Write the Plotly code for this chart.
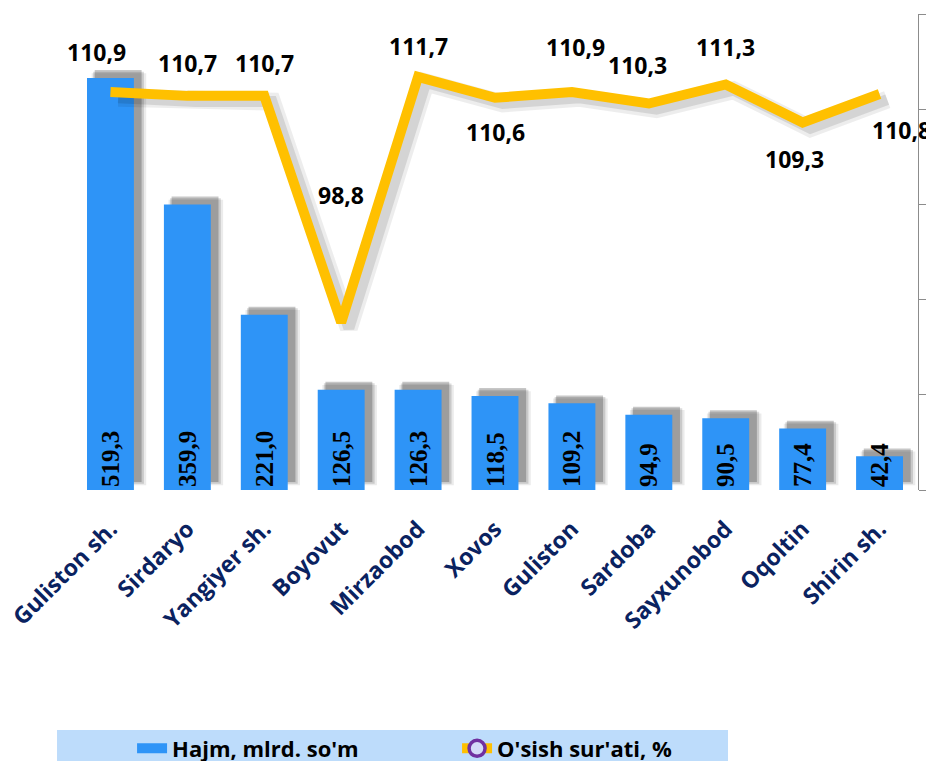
import plotly.graph_objects as go

categories = ["Guliston sh.", "Sirdaryo", "Yangiyer sh.", "Boyovut", "Mirzaobod", "Xovos",
              "Guliston", "Sardoba", "Sayxunobod", "Oqoltin", "Shirin sh."]
volume = [519.3, 359.9, 221.0, 126.5, 126.3, 118.5, 109.2, 94.9, 90.5, 77.4, 42.4]
growth = [110.9, 110.7, 110.7, 98.8, 111.7, 110.6, 110.9, 110.3, 111.3, 109.3, 110.8]

def fmt(v):
    return f"{v:.1f}".replace(".", ",")

# label offsets (px) for the growth labels
label_dx = [-14, 0, 0, 0, 0, 0, 4, -11, 0, -8, 22]
label_dy = [40, 33, 33, 127, 31, -34, 45, 38, 37, -36, -36]

BAR_COLOR = "#2E94F7"
LINE_COLOR = "#FFC000"
BAR_W = 0.61

fig = go.Figure()

# bar shadows (soft)
for w_add, shift, base, alpha in [(0.10, 0.06, 6, 0.08), (0.05, 0.08, 8, 0.14), (0.0, 0.1, 10, 0.22)]:
    fig.add_trace(go.Bar(x=categories, y=volume, base=base, width=BAR_W + w_add,
                         offset=-BAR_W / 2 + shift,
                         marker=dict(color=f"rgba(0,0,0,{alpha})", line=dict(width=0)),
                         hoverinfo="skip", showlegend=False))
# bars
fig.add_trace(go.Bar(x=categories, y=volume, width=BAR_W, offset=-BAR_W / 2,
                     marker=dict(color=BAR_COLOR, line=dict(width=0)),
                     name="Hajm, mlrd. so'm", showlegend=False,
                     text=[fmt(v) for v in volume], textposition="inside",
                     insidetextanchor="start", textangle=-90,
                     textfont=dict(family="Liberation Serif", size=25, color="black", weight="bold"),
                     cliponaxis=False))

# line shadow (shifted axes)
fig.add_trace(go.Scatter(x=categories, y=growth, mode="lines", xaxis="x2", yaxis="y2",
                         line=dict(color="rgba(0,0,0,0.07)", width=18),
                         hoverinfo="skip", showlegend=False))
fig.add_trace(go.Scatter(x=categories, y=growth, mode="lines", xaxis="x2", yaxis="y2",
                         line=dict(color="rgba(0,0,0,0.10)", width=11),
                         hoverinfo="skip", showlegend=False))
# line
fig.add_trace(go.Scatter(x=categories, y=growth, mode="lines", xaxis="x3", yaxis="y3",
                         line=dict(color=LINE_COLOR, width=10), showlegend=False))

# legend entries
fig.add_trace(go.Scatter(x=[None], y=[None], mode="lines", xaxis="x3", yaxis="y3",
                         name="Hajm, mlrd. so'm",
                         line=dict(color=BAR_COLOR, width=16)))
fig.add_trace(go.Scatter(x=[None], y=[None], mode="lines+markers", xaxis="x3", yaxis="y3",
                         name="O'sish sur'ati, %",
                         line=dict(color=LINE_COLOR, width=10),
                         marker=dict(symbol="circle", size=16, color="#D4DAF8",
                                     line=dict(color="#7030A0", width=3.5))))

annotations = []
for c, g, dx, dy in zip(categories, growth, label_dx, label_dy):
    annotations.append(dict(x=c, y=g, xref="x3", yref="y3", text=fmt(g), showarrow=False,
                            xshift=dx, yshift=dy,
                            font=dict(family="Open Sans", size=23, color="black", weight="bold")))

fig.update_layout(
    width=926, height=753,
    margin=dict(l=64, r=16, t=6, b=271, autoexpand=False),
    paper_bgcolor="white", plot_bgcolor="white",
    barmode="overlay",
    uniformtext=dict(minsize=25, mode="show"),
    showlegend=True,
    legend=dict(orientation="h", x=0.071, xanchor="left", y=-0.499, yanchor="top",
                bgcolor="rgba(0,0,0,0)",
                font=dict(family="Open Sans", size=22, color="black", weight="bold"),
                entrywidth=280, traceorder="normal"),
    annotations=annotations,
    shapes=[dict(type="rect", xref="paper", yref="paper", x0=-0.0177, x1=0.7754,
                 y0=-0.504, y1=-0.62, fillcolor="#BDDCFB", line=dict(width=0), layer="below")],
    xaxis=dict(type="category", range=[-0.5, 10.5], showline=False, ticks="",
               tickangle=-45, automargin=False, ticklabelstandoff=20,
               tickfont=dict(family="Open Sans", size=23, color="#0A2260", weight="bold")),
    yaxis=dict(range=[0, 600], visible=False),
    xaxis2=dict(type="category", overlaying="x", range=[-0.6, 10.4], visible=False),
    yaxis2=dict(overlaying="y", range=[90.3, 115.3], visible=False),
    xaxis3=dict(type="category", overlaying="x", range=[-0.5, 10.5], visible=False),
    yaxis3=dict(overlaying="y", side="right", range=[90, 115], dtick=5, tick0=90,
                showline=True, linecolor="#8C8C8C", linewidth=1, automargin=False,
                ticks="outside", ticklen=9, tickcolor="#8C8C8C",
                showticklabels=False, showgrid=False, zeroline=False),
)

fig.write_html("out.html")
